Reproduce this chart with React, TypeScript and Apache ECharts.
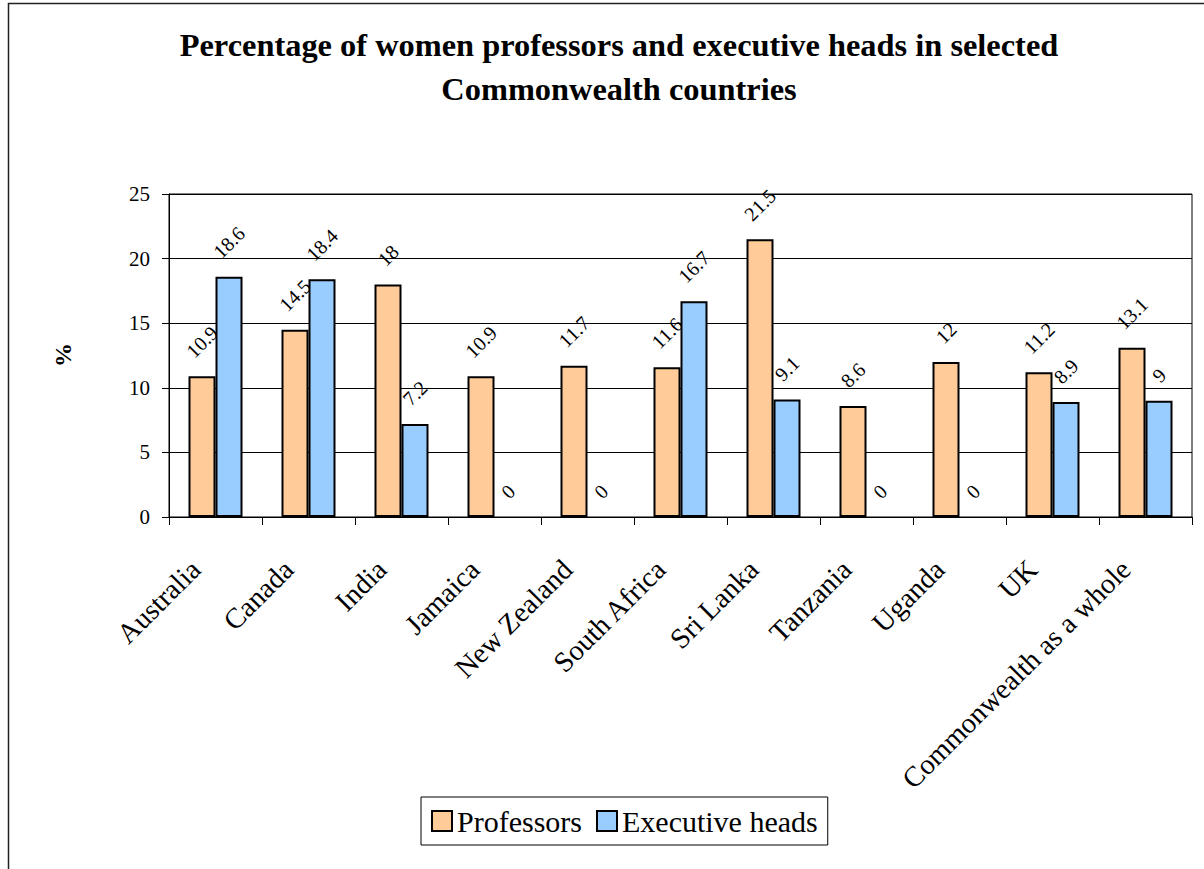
import React, { useEffect, useRef } from "react";
import * as echarts from "echarts";

const categories = [
  "Australia",
  "Canada",
  "India",
  "Jamaica",
  "New Zealand",
  "South Africa",
  "Sri Lanka",
  "Tanzania",
  "Uganda",
  "UK",
  "Commonwealth as a whole",
];
const professors = [10.9, 14.5, 18, 10.9, 11.7, 11.6, 21.5, 8.6, 12, 11.2, 13.1];
const executiveHeads = [18.6, 18.4, 7.2, 0, 0, 16.7, 9.1, 0, 0, 8.9, 9];
const seriesNames = ["Professors", "Executive heads"];
const yMin = 0;
const yMax = 25;
const yInterval = 5;
const titleText =
  "Percentage of women professors and executive heads in selected\nCommonwealth countries";
const yAxisTitle = "%";

const FONT = "'Liberation Serif', 'Times New Roman', serif";
const LABEL_FS = 20;

function barLabelLayout(params: any) {
  const r = params.rect;
  const top = Math.min(r.y, r.y + r.height);
  const w = params.labelRect.width;
  const d = 17 + (w + 14) * 0.354;
  return {
    x: r.x + r.width / 2,
    y: top - d,
    rotate: 45,
    align: "center",
    verticalAlign: "middle",
  };
}

function toBarData(values: number[]) {
  // a zero-height bar shows no outline in the reference
  return values.map((v) => (v === 0 ? { value: v, itemStyle: { borderWidth: 0 } } : v));
}

export default function App() {
  const ref = useRef<HTMLDivElement>(null);
  useEffect(() => {
    if (!ref.current) return;
    const chart = echarts.init(ref.current, undefined, { renderer: "svg" });
    const labelCfg = {
      show: true,
      position: "top",
      fontFamily: FONT,
      fontSize: LABEL_FS,
      color: "#000",
    };
    chart.setOption({
      animation: false,
      backgroundColor: "#fff",
      title: {
        text: titleText,
        left: 614,
        top: 18,
        textAlign: "center",
        textStyle: {
          fontFamily: FONT,
          fontWeight: "bold",
          fontSize: 32.4,
          lineHeight: 44,
          color: "#000",
        },
      },
      legend: {
        data: seriesNames,
        left: 421,
        top: 797,
        padding: [9, 10, 9, 10],
        itemWidth: 20,
        itemHeight: 20,
        itemGap: 14,
        borderColor: "#000",
        borderWidth: 1,
        icon: "rect",
        textStyle: {
          fontFamily: FONT,
          fontSize: 30,
          color: "#000",
        },
      },
      grid: {
        left: 169,
        right: 12,
        top: 194,
        bottom: 352,
        show: true,
        borderColor: "#000",
        borderWidth: 1,
        backgroundColor: "transparent",
        containLabel: false,
      },
      xAxis: {
        type: "category",
        data: categories,
        axisLine: { lineStyle: { color: "#000", width: 1 } },
        axisTick: { show: true, length: 8, lineStyle: { color: "#000" } },
        axisLabel: {
          rotate: 45,
          interval: 0,
          margin: 28,
          padding: [0, 28, 0, 0],
          fontFamily: FONT,
          fontSize: 28.5,
          color: "#000",
        },
      },
      yAxis: {
        type: "value",
        min: yMin,
        max: yMax,
        interval: yInterval,
        axisLine: { show: true, lineStyle: { color: "#000", width: 1 } },
        axisTick: { show: true, length: 7, lineStyle: { color: "#000" } },
        splitLine: { show: true, lineStyle: { color: "#000", width: 1 } },
        axisLabel: {
          margin: 19,
          fontFamily: FONT,
          fontSize: 21,
          color: "#000",
        },
      },
      graphic: [
        {
          type: "rect",
          shape: { x: 8.5, y: 3.5, width: 2000, height: 2000 },
          style: { fill: "none", stroke: "#222", lineWidth: 1.5 },
          silent: true,
        },
        {
          type: "text",
          x: 63,
          y: 355,
          rotation: Math.PI / 2,
          style: {
            text: yAxisTitle,
            fontFamily: FONT,
            fontWeight: "bold",
            fontSize: 24,
            fill: "#000",
            align: "center",
            verticalAlign: "middle",
          },
        },
      ],
      series: [
        {
          name: seriesNames[0],
          type: "bar",
          z: 2,
          barWidth: 27,
          barGap: "0%",
          itemStyle: { color: "#FFCC99", borderColor: "#000", borderWidth: 2 },
          label: labelCfg,
          labelLayout: barLabelLayout,
          data: toBarData(professors),
        },
        {
          name: seriesNames[1],
          type: "bar",
          z: 3,
          barWidth: 27,
          barGap: "0%",
          itemStyle: { color: "#99CCFF", borderColor: "#000", borderWidth: 2 },
          label: labelCfg,
          labelLayout: barLabelLayout,
          data: toBarData(executiveHeads),
        },
      ],
    });
    return () => chart.dispose();
  }, []);
  return (
    <div
      ref={ref}
      style={{ position: "absolute", left: 0, top: 0, width: 1204, height: 869 }}
    />
  );
}
